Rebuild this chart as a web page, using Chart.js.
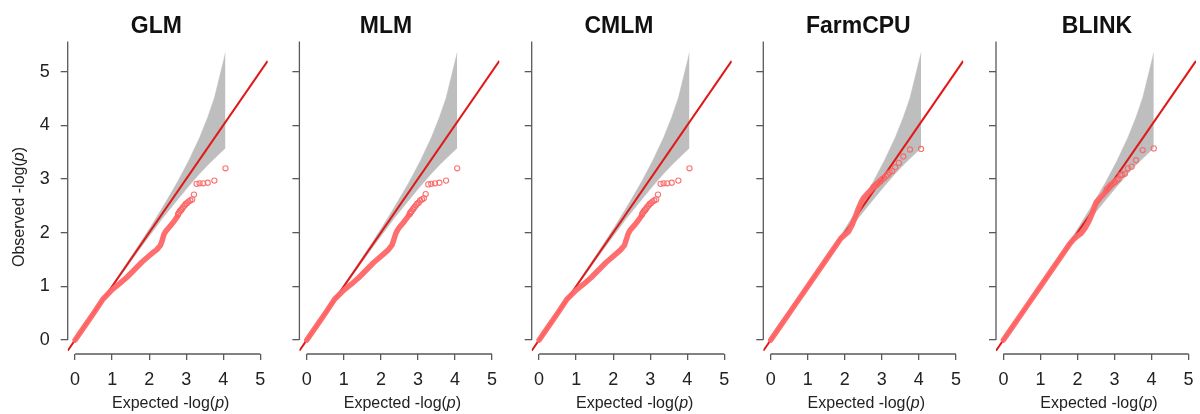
<!DOCTYPE html>
<html><head><meta charset="utf-8">
<script src="https://cdn.jsdelivr.net/npm/chart.js@4.4.1/dist/chart.umd.min.js"></script>
<style>
html,body{margin:0;padding:0;background:#fff;}
body{width:1200px;height:414px;overflow:hidden;position:relative;}
canvas.pnl{position:absolute;top:0;}
</style></head><body>
<script>
// ---------------- data ----------------
const panelTitles = ['GLM', 'MLM', 'CMLM', 'FarmCPU', 'BLINK'];
const xTickValues = [0, 1, 2, 3, 4, 5];
const yTickValues = [0, 1, 2, 3, 4, 5];
const xLimits = [-0.2, 5.2];
const yLimits = [-0.26, 5.56];

// confidence band (shared by all panels)
const bandExpected = [0, 0.5, 1.0, 1.5, 1.76, 2.06, 2.36, 2.76, 3.06, 3.36, 3.58, 3.76, 4.06];
const bandUpper    = [0, 0.51, 1.021, 1.538, 1.812, 2.135, 2.47, 2.94, 3.33, 3.77, 4.15, 4.51, 5.35];
const bandLower    = [0, 0.49, 0.979, 1.463, 1.711, 1.99, 2.27, 2.61, 2.86, 3.10, 3.26, 3.38, 3.58];

// dense part of the point cloud (expected positions shared)
const lineExpected = [0, 0.25, 0.5, 0.75, 1.0, 1.2, 1.4, 1.6, 1.8, 1.9, 2.0, 2.1, 2.2, 2.3, 2.35, 2.4, 2.45, 2.5, 2.6, 2.7, 2.76];
const glmLineObs     = [0, 0.25, 0.5, 0.76, 0.94, 1.05, 1.17, 1.31, 1.45, 1.51, 1.57, 1.63, 1.68, 1.76, 1.85, 1.97, 2.03, 2.07, 2.15, 2.24, 2.30];
const mlmLineObs     = [0, 0.25, 0.5, 0.76, 0.93, 1.04, 1.16, 1.30, 1.44, 1.50, 1.56, 1.62, 1.68, 1.77, 1.87, 1.98, 2.05, 2.10, 2.18, 2.27, 2.33];
const cmlmLineObs    = [0, 0.25, 0.5, 0.76, 0.93, 1.04, 1.16, 1.30, 1.44, 1.50, 1.56, 1.62, 1.68, 1.76, 1.86, 1.97, 2.04, 2.08, 2.16, 2.25, 2.31];
const farmcpuLineObs = [0, 0.25, 0.5, 0.75, 1.0, 1.2, 1.4, 1.6, 1.8, 1.9, 1.96, 2.02, 2.15, 2.32, 2.42, 2.5, 2.58, 2.64, 2.72, 2.79, 2.84];
const blinkLineObs   = [0, 0.25, 0.5, 0.75, 1.0, 1.2, 1.4, 1.6, 1.8, 1.88, 1.94, 1.99, 2.08, 2.2, 2.28, 2.36, 2.46, 2.56, 2.64, 2.71, 2.76];

// sparse top points (individual circles)
const tailExpected = [4.06, 3.76, 3.58, 3.46, 3.36, 3.28, 3.21, 3.16, 3.11, 3.06, 3.02, 2.98, 2.95, 2.91, 2.88, 2.86, 2.83, 2.80, 2.78];
const glmTailObs     = [3.20, 2.97, 2.93, 2.92, 2.92, 2.91, 2.71, 2.62, 2.60, 2.58, 2.55, 2.53, 2.50, 2.47, 2.44, 2.42, 2.40, 2.37, 2.34];
const mlmTailObs     = [3.20, 2.97, 2.93, 2.92, 2.91, 2.90, 2.72, 2.64, 2.62, 2.60, 2.56, 2.54, 2.51, 2.48, 2.45, 2.43, 2.40, 2.38, 2.35];
const cmlmTailObs    = [3.20, 2.97, 2.93, 2.92, 2.92, 2.91, 2.71, 2.62, 2.60, 2.58, 2.55, 2.53, 2.50, 2.47, 2.44, 2.42, 2.40, 2.37, 2.34];
const farmcpuTailObs = [3.56, 3.55, 3.42, 3.30, 3.22, 3.15, 3.12, 3.08, 3.05, 3.02, 3.00, 2.97, 2.95, 2.93, 2.91, 2.89, 2.88, 2.86, 2.85];
const blinkTailObs   = [3.57, 3.54, 3.35, 3.23, 3.20, 3.10, 3.08, 3.07, 3.00, 2.98, 2.95, 2.93, 2.91, 2.89, 2.87, 2.85, 2.83, 2.81, 2.79];

const lineObsByPanel = [glmLineObs, mlmLineObs, cmlmLineObs, farmcpuLineObs, blinkLineObs];
const tailObsByPanel = [glmTailObs, mlmTailObs, cmlmTailObs, farmcpuTailObs, blinkTailObs];

// ---------------- layout / style ----------------
const FONT = '"Liberation Sans", Arial, Helvetica, sans-serif';
const AXIS = '#5a5a5a';
const panelLeft = [0, 232, 464, 695, 928];
const yAxisWidth = [67.7, 67.4, 67.7, 68.3, 68];
const titleDx = [-11.4, -13.5, -12.7, -5, 1];
const CANVAS_W = 280, CANVAS_H = 414;

const toPts = (xs, ys) => xs.map((v, i) => ({x: v, y: ys[i]}));

function drawMixed(ctx, parts, size) {
  const widths = parts.map(([t, it]) => {
    ctx.font = (it ? 'italic ' : '') + size + 'px ' + FONT;
    return ctx.measureText(t).width;
  });
  const total = widths.reduce((a, b) => a + b, 0);
  let x = -total / 2;
  parts.forEach(([t, it], i) => {
    ctx.font = (it ? 'italic ' : '') + size + 'px ' + FONT;
    ctx.fillText(t, x, 0);
    x += widths[i];
  });
}

const decor = {
  id: 'decor',
  afterDraw(chart, args, o) {
    const {ctx, chartArea: a, scales: {x, y}} = chart;
    ctx.save();
    ctx.strokeStyle = AXIS;
    ctx.lineWidth = 1.3;
    ctx.beginPath();
    ctx.moveTo(x.getPixelForValue(xTickValues[0]), a.bottom);
    ctx.lineTo(x.getPixelForValue(xTickValues[xTickValues.length - 1]), a.bottom);
    ctx.moveTo(a.left, y.getPixelForValue(yTickValues[0]));
    ctx.lineTo(a.left, a.top);
    ctx.stroke();

    ctx.textBaseline = 'alphabetic';
    // title
    ctx.fillStyle = '#111';
    ctx.save();
    ctx.translate((a.left + a.right) / 2 + o.titleDx, 32.7);
    ctx.scale(1, 1.08);
    ctx.font = 'bold 23px ' + FONT;
    ctx.textAlign = 'center';
    ctx.fillText(o.title, 0, 0);
    ctx.restore();
    ctx.textAlign = 'left';
    // x label
    ctx.fillStyle = '#222';
    ctx.save();
    ctx.translate((a.left + a.right) / 2 + 3, 408.3);
    ctx.scale(1, 1.06);
    drawMixed(ctx, [['Expected -log(', false], ['p', true], [')', false]], 16);
    ctx.restore();
    // y label
    if (o.showYLabel) {
      ctx.save();
      ctx.translate(a.left - 43.5, 207);
      ctx.rotate(-Math.PI / 2);
      ctx.scale(1, 1.06);
      drawMixed(ctx, [['Observed -log(', false], ['p', true], [')', false]], 16);
      ctx.restore();
    }
    ctx.restore();
  }
};

panelTitles.forEach((title, i) => {
  const cv = document.createElement('canvas');
  cv.className = 'pnl';
  cv.width = CANVAS_W; cv.height = CANVAS_H;
  cv.style.left = panelLeft[i] + 'px';
  cv.style.width = CANVAS_W + 'px'; cv.style.height = CANVAS_H + 'px';
  document.body.appendChild(cv);
  const yW = yAxisWidth[i];
  new Chart(cv.getContext('2d'), {
    type: 'scatter',
    data: {
      datasets: [
        { // band upper, filled to lower
          data: toPts(bandExpected, bandUpper), showLine: true, pointRadius: 0,
          borderColor: '#bebebe', borderWidth: 0.5, backgroundColor: '#bebebe',
          fill: '+1', order: 3
        },
        {
          data: toPts(bandExpected, bandLower), showLine: true, pointRadius: 0,
          borderColor: '#bebebe', borderWidth: 0.5, fill: false, order: 4
        },
        { // identity line y = x across the axis limits
          data: toPts(xLimits, xLimits), showLine: true, pointRadius: 0,
          borderColor: '#e01818', borderWidth: 2, fill: false, order: 2
        },
        { // dense observed points
          data: toPts(lineExpected, lineObsByPanel[i]), showLine: true, pointRadius: 0,
          borderColor: 'rgba(255,102,102,0.95)', borderWidth: 5.5,
          borderCapStyle: 'round', borderJoinStyle: 'round', fill: false, order: 1
        },
        { // sparse observed points
          data: toPts(tailExpected, tailObsByPanel[i]), showLine: false,
          pointRadius: 2.6, pointStyle: 'circle', pointBorderWidth: 1.1,
          pointBorderColor: 'rgba(250,100,100,0.9)', pointBackgroundColor: 'rgba(0,0,0,0)',
          order: 0
        }
      ]
    },
    options: {
      responsive: false, animation: false, events: [],
      devicePixelRatio: 1,
      layout: {padding: {top: 41.6, right: CANVAS_W - yW - 200, bottom: 0, left: 0}},
      plugins: {
        legend: {display: false}, tooltip: {enabled: false}, title: {display: false},
        decor: {title: title, titleDx: titleDx[i], showYLabel: i === 0}
      },
      scales: {
        x: {
          type: 'linear', min: xLimits[0], max: xLimits[1],
          afterBuildTicks: s => { s.ticks = xTickValues.map(v => ({value: v})); },
          afterFit: s => { s.height = 60; },
          border: {display: false},
          grid: {drawOnChartArea: false, drawTicks: true, tickLength: 6, color: AXIS, lineWidth: 1.3},
          ticks: {padding: 9, font: {family: FONT, size: 18}, color: '#222', maxRotation: 0, autoSkip: false,
                  callback: v => String(v)}
        },
        y: {
          type: 'linear', min: yLimits[0], max: yLimits[1],
          afterBuildTicks: s => { s.ticks = yTickValues.map(v => ({value: v})); },
          afterFit: s => { s.width = yW; },
          border: {display: false},
          grid: {drawOnChartArea: false, drawTicks: true, tickLength: 7, color: AXIS, lineWidth: 1.3},
          ticks: {display: i === 0, padding: 11, font: {family: FONT, size: 18}, color: '#222', autoSkip: false,
                  callback: v => String(v)}
        }
      }
    },
    plugins: [decor]
  });
});
</script>
</body></html>
